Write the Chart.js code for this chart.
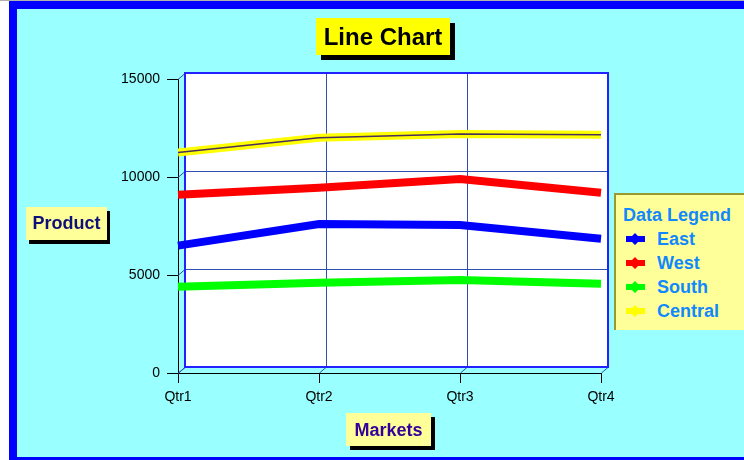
<!DOCTYPE html>
<html>
<head>
<meta charset="utf-8">
<script src="https://cdn.jsdelivr.net/npm/chart.js@4/dist/chart.umd.min.js"></script>
<style>
body{margin:0;background:#fff;width:744px;height:460px;overflow:hidden;position:relative;font-family:"Liberation Sans",Arial,sans-serif;}
#topline{position:absolute;left:0;top:0;width:744px;height:1px;background:#b0b0b0;}
#frame{position:absolute;left:9px;top:1px;width:760px;height:448px;border:8px solid #0000ff;background:#99ffff;}
#c{position:absolute;left:0;top:0;}
.box{position:absolute;box-shadow:5px 5px 0 #000;text-align:center;font-weight:bold;}
#title{left:316px;top:18px;width:134px;height:37px;background:#ffff00;color:#000;font-size:24px;line-height:38px;}
#ytitle{left:26px;top:207px;width:81px;height:33px;background:#ffff99;color:#10107a;font-size:18px;line-height:33px;box-shadow:3px 4px 0 #000;}
#xtitle{left:346px;top:413px;width:85px;height:33px;background:#ffff99;color:#330099;font-size:18px;line-height:34px;box-shadow:4px 4px 0 #000;}
#legend{position:absolute;left:614px;top:193px;width:140px;height:135px;background:#ffff99;border-left:2px solid #999933;border-top:2px solid #999933;color:#1188ff;font-weight:bold;font-size:18px;}
#legend .head{position:absolute;left:7px;top:10px;}
#legend .item{position:absolute;left:10px;height:22px;line-height:22px;}
#legend .item svg{position:absolute;left:0;top:5px;}
#legend .item span{position:absolute;left:31px;top:0;white-space:nowrap;}
</style>
</head>
<body>
<div id="topline"></div>
<div id="frame"></div>
<canvas id="c" width="744" height="460"></canvas>
<div class="box" id="title">Line Chart</div>
<div class="box" id="ytitle">Product</div>
<div class="box" id="xtitle">Markets</div>
<div id="legend"><div class="head">Data Legend</div></div>
<script>
const quarters=["Qtr1","Qtr2","Qtr3","Qtr4"];
const seriesNames=["East","West","South","Central"];
const east=[6500,7600,7550,6850];
const west=[9100,9450,9900,9200];
const south=[4400,4600,4750,4550];
const central=[11250,12000,12200,12150];
const yTicks=[0,5000,10000,15000];

const lineColors=["#0000ff","#ff0000","#00ff00","#ffff00"];
const allSeries=[east,west,south,central];

// legend
const leg=document.getElementById("legend");
seriesNames.forEach((n,i)=>{
  const d=document.createElement("div");
  d.className="item";
  d.style.top=(33+i*24)+"px";
  d.innerHTML='<svg width="19" height="12"><polygon fill="'+lineColors[i]+'" points="0,3 6,3 9,0 12,3 19,3 19,9 12,9 9,12 6,9 0,9"/></svg><span>'+n+'</span>';
  leg.appendChild(d);
});

const DX=7,DY=-6;
const wall={
  id:"wall",
  beforeDatasetsDraw(chart){
    const ctx=chart.ctx,a=chart.chartArea,x=chart.scales.x,y=chart.scales.y;
    ctx.save();
    ctx.fillStyle="#ffffff";
    ctx.fillRect(a.left+DX,a.top+DY,a.right-a.left,a.bottom-a.top);
    ctx.lineWidth=1;
    ctx.strokeStyle="#2f4fb0";
    ctx.beginPath();
    yTicks.forEach(v=>{
      const py=Math.round(y.getPixelForValue(v))+0.5;
      ctx.moveTo(a.left,py);ctx.lineTo(a.left+DX,py+DY);
      ctx.moveTo(a.left+DX,py+DY);ctx.lineTo(a.right+DX,py+DY);
    });
    quarters.forEach((q,i)=>{
      const px=Math.round(x.getPixelForValue(i))+0.5;
      ctx.moveTo(px,a.bottom);ctx.lineTo(px+DX,a.bottom+DY);
      ctx.moveTo(px+DX,a.bottom+DY);ctx.lineTo(px+DX,a.top+DY);
    });
    ctx.stroke();
    ctx.strokeStyle="#2222ff";
    ctx.lineWidth=2;
    ctx.strokeRect(a.left+DX,a.top+DY,a.right-a.left,a.bottom-a.top);
    ctx.restore();
  }
};

const datasets=allSeries.map((s,i)=>({
  label:seriesNames[i],
  data:s,
  borderColor:lineColors[i],
  borderWidth:8,
  pointRadius:0,
  tension:0,
  fill:false,
  borderCapStyle:"butt",
  order:1
}));
datasets.push({
  label:"Central edge",
  data:central,
  borderColor:"#4a2f5c",
  borderWidth:1.5,
  pointRadius:0,
  fill:false,
  order:0
});

new Chart(document.getElementById("c"),{
  type:"line",
  data:{labels:quarters,datasets:datasets},
  options:{
    responsive:false,
    animation:false,
    layout:{padding:{left:0,top:79,right:143,bottom:0}},
    plugins:{legend:{display:false},title:{display:false},tooltip:{enabled:false}},
    scales:{
      x:{
        offset:false,
        grid:{drawOnChartArea:false,drawTicks:true,tickLength:10,color:"#000"},
        border:{display:true,color:"#000"},
        ticks:{color:"#000",font:{family:"Liberation Sans",size:14},padding:6,maxRotation:0},
        afterFit(s){s.height=87;}
      },
      y:{
        min:0,max:15000,
        grid:{drawOnChartArea:false,drawTicks:true,tickLength:11,color:"#000"},
        border:{display:true,color:"#000"},
        ticks:{stepSize:5000,color:"#000",font:{family:"Liberation Sans",size:14},padding:7,callback:v=>String(v)},
        afterBuildTicks(s){s.ticks=yTicks.map(v=>({value:v}));},
        afterFit(s){s.width=178;}
      }
    }
  },
  plugins:[wall]
});
</script>
</body>
</html>
